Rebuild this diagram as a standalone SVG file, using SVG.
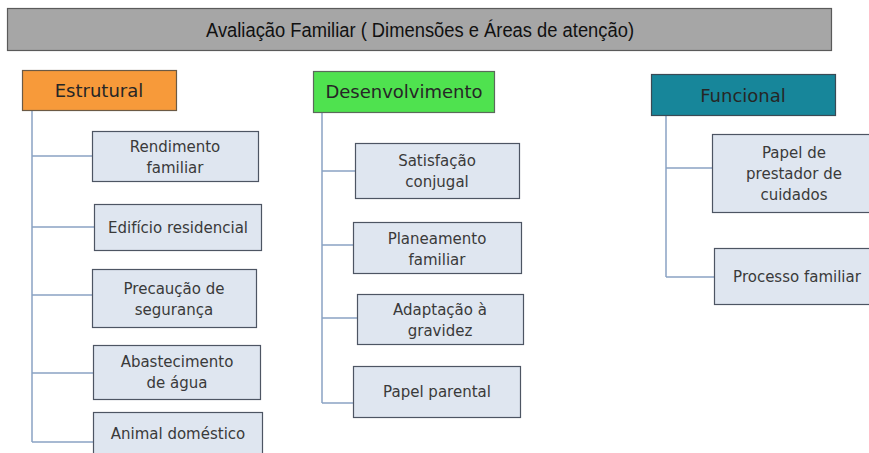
<svg xmlns="http://www.w3.org/2000/svg" width="869" height="453" viewBox="0 0 869 453">
<style>
.box{fill:#dfe6f0;stroke:#4d5563;stroke-width:1.2}
.t{font-family:"DejaVu Sans",sans-serif;font-size:15px;fill:#3a3a3a;text-anchor:middle}
.h{font-family:"DejaVu Sans",sans-serif;font-size:18px;fill:#262626;text-anchor:middle}
.c{stroke:#8aa3c4;stroke-width:1.5;fill:none}
</style>
<rect width="869" height="453" fill="#ffffff"/>
<g id="title">
<rect x="7.5" y="8.5" width="824" height="42" fill="#a6a6a6" stroke="#5a5a5a" stroke-width="1.2"/>
<text x="420" y="37" font-family="Liberation Sans, sans-serif" font-size="20" fill="#111111" text-anchor="middle" textLength="428" lengthAdjust="spacingAndGlyphs">Avaliação Familiar ( Dimensões e Áreas de atenção)</text>
</g>
<g id="connectors">
<path class="c" d="M32 110 V442 M32 156 H92 M32 227 H94 M32 295 H92 M32 373 H93 M32 442 H93"/>
<path class="c" d="M322 112 V403 M322 171 H355 M322 245 H353 M322 318 H357 M322 403 H353"/>
<path class="c" d="M666 115 V277 M666 168 H712 M666 277 H714"/>
</g>
<g id="estrutural">
<rect x="22.5" y="70.5" width="154" height="40" fill="#f79a3a" stroke="#6b5a45" stroke-width="1.2"/>
<text class="h" x="99" y="97">Estrutural</text>
</g>
<g id="rendimento">
<rect class="box" x="92.5" y="131.5" width="166" height="50"/>
<text class="t" x="175" y="152">Rendimento</text>
<text class="t" x="175" y="173">familiar</text>
</g>
<g id="edificio">
<rect class="box" x="94.5" y="204.5" width="167" height="46"/>
<text class="t" x="178" y="233">Edifício residencial</text>
</g>
<g id="precaucao">
<rect class="box" x="92.5" y="269.5" width="164" height="58"/>
<text class="t" x="174" y="294">Precaução de</text>
<text class="t" x="174" y="315">segurança</text>
</g>
<g id="abastecimento">
<rect class="box" x="93.5" y="345.5" width="167" height="54"/>
<text class="t" x="177" y="367">Abastecimento</text>
<text class="t" x="177" y="388">de água</text>
</g>
<g id="animal">
<rect class="box" x="93.5" y="412.5" width="169" height="45"/>
<text class="t" x="178" y="439">Animal doméstico</text>
</g>
<g id="desenvolvimento">
<rect x="313.5" y="71.5" width="181" height="41" fill="#4fe24f" stroke="#5a6a5a" stroke-width="1.2"/>
<text class="h" x="404" y="98">Desenvolvimento</text>
</g>
<g id="satisfacao">
<rect class="box" x="355.5" y="143.5" width="164" height="55"/>
<text class="t" x="437" y="166">Satisfação</text>
<text class="t" x="437" y="187">conjugal</text>
</g>
<g id="planeamento">
<rect class="box" x="353.5" y="222.5" width="168" height="51"/>
<text class="t" x="437" y="244">Planeamento</text>
<text class="t" x="437" y="265">familiar</text>
</g>
<g id="adaptacao">
<rect class="box" x="357.5" y="294.5" width="166" height="50"/>
<text class="t" x="440" y="315">Adaptação à</text>
<text class="t" x="440" y="336">gravidez</text>
</g>
<g id="papelparental">
<rect class="box" x="353.5" y="366.5" width="167" height="51"/>
<text class="t" x="437" y="397">Papel parental</text>
</g>
<g id="funcional">
<rect x="651.5" y="74.5" width="184" height="41" fill="#17869a" stroke="#3a4a55" stroke-width="1.2"/>
<text class="h" x="743" y="102">Funcional</text>
</g>
<g id="prestador">
<rect class="box" x="712.5" y="134.5" width="166" height="78"/>
<text class="t" x="794" y="158">Papel de</text>
<text class="t" x="794" y="179">prestador de</text>
<text class="t" x="794" y="200">cuidados</text>
</g>
<g id="processo">
<rect class="box" x="714.5" y="248.5" width="166" height="56"/>
<text class="t" x="797" y="282">Processo familiar</text>
</g>
</svg>
